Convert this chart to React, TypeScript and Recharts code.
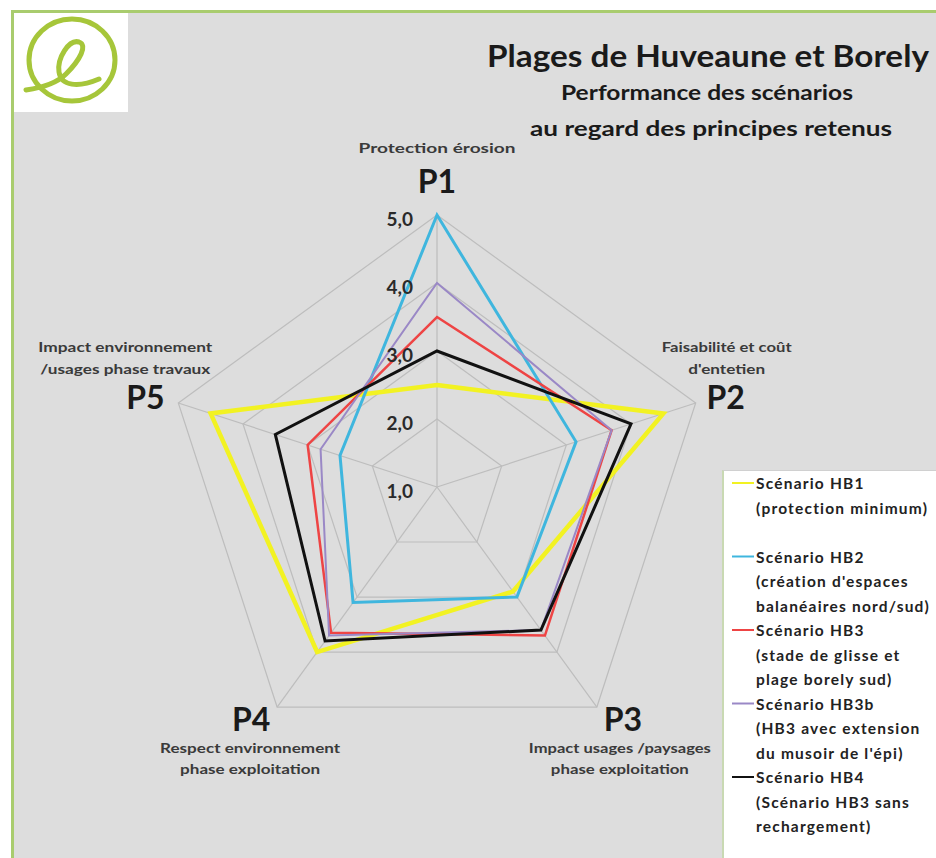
import React from 'react';
import { RadarChart, Radar, PolarGrid, PolarAngleAxis, PolarRadiusAxis, Legend } from 'recharts';

const categories = ['P1', 'P2', 'P3', 'P4', 'P5'];
const descLine1 = ['Protection érosion', 'Faisabilité  et coût', 'Impact usages /paysages', 'Respect environnement', 'Impact environnement'];
const descLine2 = ['', "d'entetien", 'phase exploitation', 'phase exploitation', '/usages  phase travaux'];

const hb1 = [2.5, 4.5, 2.9, 4.0, 4.5];
const hb2 = [5.0, 3.15, 3.0, 3.1, 2.5];
const hb3 = [3.5, 3.7, 3.7, 3.65, 3.0];
const hb3b = [4.0, 3.7, 3.6, 3.7, 2.8];
const hb4 = [3.0, 4.0, 3.6, 3.8, 3.5];

const radiusTicks = [1, 2, 3, 4, 5];

const seriesNames = ['HB1', 'HB2', 'HB3', 'HB3b', 'HB4'];
const seriesValues = [hb1, hb2, hb3, hb3b, hb4];
const seriesColors = ['#f2f222', '#3fb6de', '#ee4444', '#9a88c6', '#111111'];
const seriesWidths = [4.5, 3, 2.5, 2, 3];
const legendLines = [
  ['Scénario HB1', '(protection minimum)', ''],
  ['Scénario HB2', "(création d'espaces", 'balanéaires nord/sud)'],
  ['Scénario HB3', '(stade de glisse et', 'plage borely sud)'],
  ['Scénario HB3b', '(HB3 avec extension', "du musoir de l'épi)"],
  ['Scénario HB4', '(Scénario HB3 sans', 'rechargement)'],
];

const data = categories.map((c, i) => {
  const row: any = { axis: c };
  seriesNames.forEach((s, k) => { row[s] = seriesValues[k][i]; });
  return row;
});

const FONT = 'Lato, "Open Sans", sans-serif';

// offsets relative to the outer vertex of each axis
const labelOffsets = [
  { px: 0, py: -35, dx: 0, d1: -67, d2: 0, l1: 157, l2: 0 },
  { px: 30, py: -6, dx: 31, d1: -55, d2: -33, l1: 130, l2: 77 },
  { px: 26, py: 11, dx: 23, d1: 41, d2: 62, l1: 182, l2: 138 },
  { px: -26, py: 11, dx: -27, d1: 41, d2: 62, l1: 180, l2: 140 },
  { px: -33, py: -6, dx: -53, d1: -55, d2: -33, l1: 174, l2: 170 },
];

const AngleTick = (props: any) => {
  const { payload, cx, cy, radius } = props;
  const idx = categories.indexOf(payload.value);
  const ang = (payload.coordinate * Math.PI) / 180;
  const vx = cx + radius * Math.cos(ang);
  const vy = cy - radius * Math.sin(ang);
  const o = labelOffsets[idx];
  return (
    <g>
      <text x={vx + o.px} y={vy + o.py} textAnchor="middle" dominantBaseline="central"
        fontFamily={FONT} fontWeight={700} fontSize={32} fill="#1a1a1a">{payload.value}</text>
      <text x={vx + o.dx} y={vy + o.d1} textAnchor="middle" dominantBaseline="central"
        fontFamily={FONT} fontWeight={700} fontSize={12.5} fill="#3a3a3a"
        textLength={o.l1} lengthAdjust="spacingAndGlyphs">{descLine1[idx]}</text>
      {descLine2[idx] ? (
        <text x={vx + o.dx} y={vy + o.d2} textAnchor="middle" dominantBaseline="central"
          fontFamily={FONT} fontWeight={700} fontSize={12.5} fill="#3a3a3a"
          textLength={o.l2} lengthAdjust="spacingAndGlyphs">{descLine2[idx]}</text>
      ) : null}
    </g>
  );
};

const RadiusTick = (props: any) => {
  const { x, y, payload } = props;
  return (
    <text x={x - 24} y={y + 3} textAnchor="end" dominantBaseline="central"
      fontFamily={FONT} fontWeight={700} fontSize={19} fill="#2a2a2a">
      {Number(payload.value).toFixed(1).replace('.', ',')}
    </text>
  );
};

const LegendContent = () => {
  const rowH = 24.5;
  let row = 0;
  const items: any[] = [];
  legendLines.forEach((lines, k) => {
    lines.forEach((t, j) => {
      const y = 12 + row * rowH;
      if (j === 0) {
        items.push(<line key={'l' + k} x1={8} x2={30} y1={y} y2={y} stroke={seriesColors[k]} strokeWidth={2} />);
      }
      if (t) {
        items.push(
          <text key={'t' + k + '-' + j} x={32} y={y} dominantBaseline="central" fontFamily={FONT}
            fontWeight={700} fontSize={15.5} letterSpacing={1.2} fill="#222">{t}</text>
        );
      }
      row += 1;
    });
  });
  return (
    <div style={{ width: 214, height: 388, background: '#ffffff', borderLeft: '2px solid #c9d9b3', borderTop: '1px solid #d0d0d0', boxSizing: 'border-box', overflow: 'hidden' }}>
      <svg width={214} height={388}>{items}</svg>
    </div>
  );
};

export default function App() {
  return (
    <div style={{ position: 'absolute', left: 0, top: 0, width: 936, height: 858, overflow: 'hidden', background: '#ffffff' }}>
      <div style={{ position: 'absolute', left: 11, top: 10, width: 925, height: 848, background: '#dddddd', borderTop: '3px solid #a9cc6e', borderLeft: '3px solid #a9cc6e', boxSizing: 'border-box' }} />
      <div style={{ position: 'absolute', left: 0, top: 0 }}>
        <RadarChart width={936} height={858} data={data} cx={437} cy={487} outerRadius={272}
          margin={{ top: 0, right: 0, bottom: 0, left: 0 }}>
          <PolarGrid gridType="polygon" stroke="#bdbdbd" strokeWidth={1.2} />
          <PolarAngleAxis dataKey="axis" tick={AngleTick} tickLine={false} axisLine={false} />
          <PolarRadiusAxis angle={90} domain={[1, 5]} ticks={radiusTicks as any} tickCount={5}
            axisLine={false} tickLine={false} tick={RadiusTick} />
          {seriesNames.map((s, k) => (
            <Radar key={s} name={s} dataKey={s} stroke={seriesColors[k]} strokeWidth={seriesWidths[k]}
              fill="none" fillOpacity={0} dot={false} isAnimationActive={false} />
          ))}
          <Legend content={LegendContent} wrapperStyle={{ position: 'absolute', left: 722, top: 470, width: 214, height: 388 }} />
        </RadarChart>
      </div>
      <svg width={936} height={858} style={{ position: 'absolute', left: 0, top: 0, pointerEvents: 'none' }}>
        <rect x={14} y={13} width={114} height={99} fill="#ffffff" />
        <ellipse cx={72} cy={60} rx={43} ry={41} fill="none" stroke="#a6c63a" strokeWidth={5} />
        <path d="M 26 90 C 40 88, 56 84, 66 74 C 80 60, 88 45, 79 42 C 69 39, 57 58, 59 72 C 61 86, 78 88, 99 79"
          fill="none" stroke="#a6c63a" strokeWidth={5} strokeLinecap="round" />
        <text x={708} y={55} textAnchor="middle" dominantBaseline="central" fontFamily={FONT} fontWeight={700}
          fontSize={30} fill="#1a1a1a" textLength={442} lengthAdjust="spacingAndGlyphs">Plages de Huveaune et Borely</text>
        <text x={707} y={91} textAnchor="middle" dominantBaseline="central" fontFamily={FONT} fontWeight={700}
          fontSize={21} fill="#1a1a1a" textLength={292} lengthAdjust="spacingAndGlyphs">Performance des scénarios</text>
        <text x={711} y={127} textAnchor="middle" dominantBaseline="central" fontFamily={FONT} fontWeight={700}
          fontSize={21} fill="#1a1a1a" textLength={362} lengthAdjust="spacingAndGlyphs">au regard des principes retenus</text>
      </svg>
    </div>
  );
}
